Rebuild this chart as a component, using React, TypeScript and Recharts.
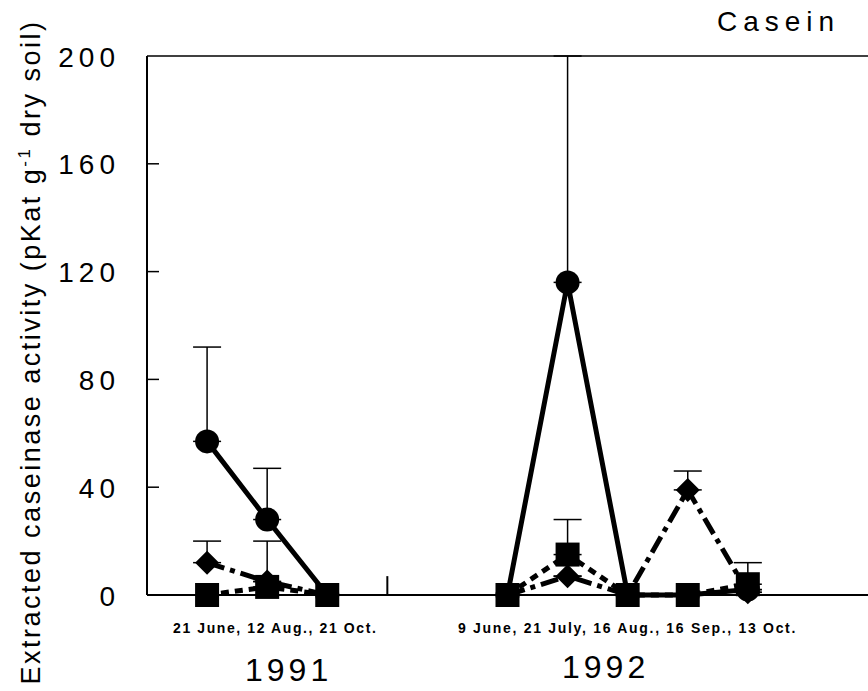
import { ComposedChart, Line, XAxis, YAxis, ErrorBar, ReferenceLine } from 'recharts';

// sampling dates, laid out on one index axis (3 = gap tick between years)
const positions = [0, 1, 2, 3, 5, 6, 7, 8, 9];
const dateLabels1991 = '21 June, 12 Aug., 21 Oct.';
const dateLabels1992 = '9 June, 21 July, 16 Aug., 16 Sep., 13 Oct.';
const yTicks = [0, 40, 80, 120, 160, 200];

const circleVals = [57, 28, 0, null, 0, 116, 0, 0, 2];
const circleErr = [35, 19, 0, null, 0, 84, 0, 0, 0];
const diamondVals = [12, 5, 0, null, 0, 7, 0, 39, 1];
const diamondErr = [8, 0, 0, null, 0, 0, 0, 7, 0];
const squareVals = [0, 3, 0, null, 0, 15, 0, 0, 4];
const squareErr = [0, 17, 0, null, 0, 13, 0, 0, 8];

const data = positions.map((x, i) => ({
  x,
  circle: circleVals[i],
  circleE: circleErr[i] == null ? null : [0, circleErr[i]],
  diamond: diamondVals[i],
  diamondE: diamondErr[i] == null ? null : [0, diamondErr[i]],
  square: squareVals[i],
  squareE: squareErr[i] == null ? null : [0, squareErr[i]],
}));

const font = '"Liberation Sans", Arial, sans-serif';

const CircleDot = (p: any) => {
  if (p.cx == null || p.cy == null || p.value == null) return <g key={p.key} />;
  return <circle key={p.key} cx={p.cx} cy={p.cy} r={12} fill="#000" />;
};
const SquareDot = (p: any) => {
  if (p.cx == null || p.cy == null || p.value == null) return <g key={p.key} />;
  return <rect key={p.key} x={p.cx - 12} y={p.cy - 12} width={24} height={24} fill="#000" />;
};
const DiamondDot = (p: any) => {
  if (p.cx == null || p.cy == null || p.value == null) return <g key={p.key} />;
  const s = 12;
  return (
    <polygon
      key={p.key}
      points={`${p.cx},${p.cy - s} ${p.cx + s},${p.cy} ${p.cx},${p.cy + s} ${p.cx - s},${p.cy}`}
      fill="#000"
    />
  );
};

const YTick = (p: any) => (
  <text
    x={p.x - 19}
    y={p.y}
    dy={1}
    textAnchor="end"
    dominantBaseline="central"
    fontFamily={font}
    fontSize={28}
    letterSpacing={5}
    fill="#000"
  >
    {p.payload.value}
  </text>
);

export default function App() {
  return (
    <div style={{ position: 'absolute', left: 0, top: 0, width: 868, height: 691, background: '#fff', fontFamily: font, color: '#000' }}>
      <ComposedChart
        width={868}
        height={691}
        data={data}
        margin={{ top: 56, right: 0, left: 87, bottom: 95 }}
      >
        <XAxis
          dataKey="x"
          type="number"
          domain={[-1, 11]}
          tick={false}
          tickLine={false}
          height={1}
          axisLine={{ stroke: '#000', strokeWidth: 2 }}
        />
        <YAxis
          type="number"
          domain={[0, 200]}
          ticks={yTicks}
          width={60}
          tickLine={false}
          tick={<YTick />}
          axisLine={{ stroke: '#000', strokeWidth: 2 }}
        />
        <ReferenceLine y={200} stroke="#000" strokeWidth={1.5} />
        {yTicks.slice(1, -1).map((t) => (
          <ReferenceLine
            key={'tk' + t}
            segment={[{ x: -1, y: t }, { x: -0.8, y: t }]}
            stroke="#000"
            strokeWidth={1.5}
          />
        ))}
        <ReferenceLine segment={[{ x: 3, y: 0 }, { x: 3, y: 7 }]} stroke="#000" strokeWidth={2} />
        <Line
          dataKey="circle"
          stroke="#000"
          strokeWidth={5}
          dot={CircleDot}
          activeDot={false}
          isAnimationActive={false}
        >
          <ErrorBar dataKey="circleE" direction="y" width={14} stroke="#000" strokeWidth={1.5} />
        </Line>
        <Line
          dataKey="diamond"
          stroke="#000"
          strokeWidth={5}
          strokeDasharray="18 6 5 6"
          dot={DiamondDot}
          activeDot={false}
          isAnimationActive={false}
        >
          <ErrorBar dataKey="diamondE" direction="y" width={14} stroke="#000" strokeWidth={1.5} />
        </Line>
        <Line
          dataKey="square"
          stroke="#000"
          strokeWidth={5}
          strokeDasharray="8 6"
          dot={SquareDot}
          activeDot={false}
          isAnimationActive={false}
        >
          <ErrorBar dataKey="squareE" direction="y" width={14} stroke="#000" strokeWidth={1.5} />
        </Line>
      </ComposedChart>

      <div style={{ position: 'absolute', left: 717, top: 6, whiteSpace: 'nowrap', fontSize: 28, lineHeight: '32px', letterSpacing: 6 }}>
        Casein
      </div>
      <div
        style={{
          position: 'absolute',
          left: 31 - 360,
          top: 352 - 16,
          width: 720,
          height: 32,
          lineHeight: '32px',
          textAlign: 'center',
          fontSize: 27,
          letterSpacing: 2.5,
          transform: 'rotate(-90deg)',
          whiteSpace: 'nowrap',
        }}
      >
        Extracted caseinase ac<span>t</span>ivity (pKat g<sup style={{ fontSize: 17, lineHeight: 0 }}>-1</sup> dry soil)
      </div>
      <div style={{ position: 'absolute', left: 173, top: 620, whiteSpace: 'nowrap', fontSize: 14, lineHeight: '16px', fontWeight: 'bold', letterSpacing: 1.6 }}>
        {dateLabels1991}
      </div>
      <div style={{ position: 'absolute', left: 458, top: 620, whiteSpace: 'nowrap', fontSize: 14, lineHeight: '16px', fontWeight: 'bold', letterSpacing: 1.7 }}>
        {dateLabels1992}
      </div>
      <div style={{ position: 'absolute', left: 245, top: 654, whiteSpace: 'nowrap', fontSize: 32, lineHeight: '32px', letterSpacing: 4 }}>
        1991
      </div>
      <div style={{ position: 'absolute', left: 562, top: 651, whiteSpace: 'nowrap', fontSize: 32, lineHeight: '32px', letterSpacing: 4 }}>
        1992
      </div>
    </div>
  );
}
